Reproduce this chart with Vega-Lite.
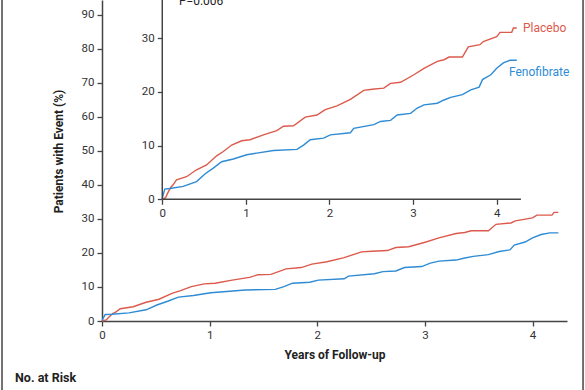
{
  "$schema": "https://vega.github.io/schema/vega-lite/v6.json",
  "width": 465,
  "height": 321,
  "autosize": {"type": "none"},
  "padding": {"left": 102, "right": 18, "top": 0, "bottom": 69},
  "background": "white",
  "config": {
    "view": {"stroke": null},
    "font": "Roboto, sans-serif",
    "axis": {
      "grid": false,
      "domainColor": "#444",
      "domainWidth": 1.5,
      "tickColor": "#444",
      "tickWidth": 1.3,
      "tickSize": 5,
      "labelPadding": 3,
      "labelFontSize": 11.5,
      "labelColor": "#333",
      "labelFlush": false,
      "labelOverlap": false,
      "labelBound": false,
      "titleFontSize": 12,
      "titleFontWeight": "bold",
      "titleColor": "#222"
    },
    "axisY": {"labelOverlap": false, "tickCount": 10}
  },
  "datasets": {
    "km": [
      {"group": "Placebo", "t": 0, "v": 0},
      {"group": "Placebo", "t": 0.04, "v": 0.3},
      {"group": "Placebo", "t": 0.06, "v": 1.0},
      {"group": "Placebo", "t": 0.10, "v": 2.2},
      {"group": "Placebo", "t": 0.13, "v": 2.7},
      {"group": "Placebo", "t": 0.17, "v": 3.6},
      {"group": "Placebo", "t": 0.29, "v": 4.2},
      {"group": "Placebo", "t": 0.41, "v": 5.5},
      {"group": "Placebo", "t": 0.53, "v": 6.4},
      {"group": "Placebo", "t": 0.65, "v": 8.1},
      {"group": "Placebo", "t": 0.73, "v": 8.9},
      {"group": "Placebo", "t": 0.83, "v": 10.1},
      {"group": "Placebo", "t": 0.95, "v": 10.9},
      {"group": "Placebo", "t": 1.05, "v": 11.1},
      {"group": "Placebo", "t": 1.21, "v": 12.0},
      {"group": "Placebo", "t": 1.37, "v": 12.8},
      {"group": "Placebo", "t": 1.45, "v": 13.6},
      {"group": "Placebo", "t": 1.57, "v": 13.7},
      {"group": "Placebo", "t": 1.71, "v": 15.3},
      {"group": "Placebo", "t": 1.85, "v": 15.7},
      {"group": "Placebo", "t": 1.95, "v": 16.7},
      {"group": "Placebo", "t": 2.09, "v": 17.4},
      {"group": "Placebo", "t": 2.25, "v": 18.6},
      {"group": "Placebo", "t": 2.41, "v": 20.3},
      {"group": "Placebo", "t": 2.51, "v": 20.5},
      {"group": "Placebo", "t": 2.65, "v": 20.7},
      {"group": "Placebo", "t": 2.73, "v": 21.6},
      {"group": "Placebo", "t": 2.85, "v": 21.8},
      {"group": "Placebo", "t": 3.01, "v": 23.2},
      {"group": "Placebo", "t": 3.13, "v": 24.4},
      {"group": "Placebo", "t": 3.29, "v": 25.7},
      {"group": "Placebo", "t": 3.37, "v": 26.0},
      {"group": "Placebo", "t": 3.43, "v": 26.5},
      {"group": "Placebo", "t": 3.59, "v": 26.5},
      {"group": "Placebo", "t": 3.66, "v": 28.4},
      {"group": "Placebo", "t": 3.80, "v": 28.8},
      {"group": "Placebo", "t": 3.84, "v": 29.4},
      {"group": "Placebo", "t": 4.00, "v": 30.3},
      {"group": "Placebo", "t": 4.04, "v": 31.1},
      {"group": "Placebo", "t": 4.18, "v": 31.1},
      {"group": "Placebo", "t": 4.20, "v": 31.9},
      {"group": "Placebo", "t": 4.24, "v": 31.9},
      {"group": "Fenofibrate", "t": 0, "v": 0},
      {"group": "Fenofibrate", "t": 0.01, "v": 0.8},
      {"group": "Fenofibrate", "t": 0.03, "v": 1.9},
      {"group": "Fenofibrate", "t": 0.09, "v": 2.0},
      {"group": "Fenofibrate", "t": 0.25, "v": 2.4},
      {"group": "Fenofibrate", "t": 0.41, "v": 3.3},
      {"group": "Fenofibrate", "t": 0.51, "v": 4.7},
      {"group": "Fenofibrate", "t": 0.61, "v": 5.8},
      {"group": "Fenofibrate", "t": 0.71, "v": 7.0},
      {"group": "Fenofibrate", "t": 0.85, "v": 7.5},
      {"group": "Fenofibrate", "t": 1.01, "v": 8.3},
      {"group": "Fenofibrate", "t": 1.13, "v": 8.6},
      {"group": "Fenofibrate", "t": 1.33, "v": 9.1},
      {"group": "Fenofibrate", "t": 1.61, "v": 9.3},
      {"group": "Fenofibrate", "t": 1.69, "v": 10.1},
      {"group": "Fenofibrate", "t": 1.77, "v": 11.1},
      {"group": "Fenofibrate", "t": 1.93, "v": 11.4},
      {"group": "Fenofibrate", "t": 2.01, "v": 12.0},
      {"group": "Fenofibrate", "t": 2.25, "v": 12.4},
      {"group": "Fenofibrate", "t": 2.29, "v": 13.2},
      {"group": "Fenofibrate", "t": 2.53, "v": 13.9},
      {"group": "Fenofibrate", "t": 2.61, "v": 14.5},
      {"group": "Fenofibrate", "t": 2.73, "v": 14.7},
      {"group": "Fenofibrate", "t": 2.81, "v": 15.7},
      {"group": "Fenofibrate", "t": 2.97, "v": 16.0},
      {"group": "Fenofibrate", "t": 3.05, "v": 17.0},
      {"group": "Fenofibrate", "t": 3.13, "v": 17.6},
      {"group": "Fenofibrate", "t": 3.29, "v": 17.9},
      {"group": "Fenofibrate", "t": 3.37, "v": 18.5},
      {"group": "Fenofibrate", "t": 3.45, "v": 19.0},
      {"group": "Fenofibrate", "t": 3.59, "v": 19.5},
      {"group": "Fenofibrate", "t": 3.69, "v": 20.4},
      {"group": "Fenofibrate", "t": 3.79, "v": 20.9},
      {"group": "Fenofibrate", "t": 3.83, "v": 22.3},
      {"group": "Fenofibrate", "t": 3.93, "v": 23.2},
      {"group": "Fenofibrate", "t": 4.00, "v": 24.4},
      {"group": "Fenofibrate", "t": 4.08, "v": 25.4},
      {"group": "Fenofibrate", "t": 4.16, "v": 25.9},
      {"group": "Fenofibrate", "t": 4.24, "v": 25.9}
    ]
  },
  "resolve": {
    "scale": {"x": "independent", "y": "independent", "color": "shared"},
    "axis": {"x": "independent", "y": "independent"}
  },
  "layer": [
    {
      "layer": [
        {
          "data": {"name": "km"},
          "mark": {"type": "line", "strokeWidth": 1.4, "interpolate": "linear"},
          "encoding": {
            "x": {
              "field": "t", "type": "quantitative",
              "scale": {"domain": [0, 4.32], "nice": false, "zero": false},
              "axis": {
                "orient": "bottom",
                "values": [0, 0.5, 1, 1.5, 2, 2.5, 3, 3.5, 4],
                "format": "d",
                "labelOverlap": false,
                "labelExpr": "datum.value % 1 === 0 ? datum.label : ''",
                "title": "Years of Follow-up",
                "titlePadding": 9
              }
            },
            "y": {
              "field": "v", "type": "quantitative",
              "scale": {"domain": [0, 94.3], "nice": false},
              "axis": {
                "orient": "left",
                "values": [0, 10, 20, 30, 40, 50, 60, 70, 80, 90],
                "labelOverlap": false,
                "title": "Patients with Event (%)",
                "titleX": -44,
                "titleY": 151,
                "titleAngle": -90,
                "titleAlign": "center",
                "titleBaseline": "middle"
              }
            },
            "color": {
              "field": "group", "type": "nominal",
              "scale": {"domain": ["Placebo", "Fenofibrate"], "range": ["#dc5a4b", "#2e8bd4"]},
              "legend": null
            }
          }
        },
        {
          "data": {"values": [{}]},
          "mark": {"type": "rule", "color": "#444", "strokeWidth": 1.5},
          "encoding": {
            "x": {"datum": -0.929, "type": "quantitative"},
            "y": {"datum": 94.3, "type": "quantitative", "axis": {"values": [0, 10, 20, 30, 40, 50, 60, 70, 80, 90], "labelOverlap": false}},
            "y2": {"datum": -21}
          }
        },
        {
          "data": {"values": [{}]},
          "mark": {"type": "rule", "color": "#444", "strokeWidth": 1.5},
          "encoding": {
            "x": {"datum": 4.469, "type": "quantitative"},
            "y": {"datum": 94.3, "type": "quantitative", "axis": {"values": [0, 10, 20, 30, 40, 50, 60, 70, 80, 90], "labelOverlap": false}},
            "y2": {"datum": -21}
          }
        },
        {
          "data": {"values": [{}]},
          "mark": {"type": "text", "text": "No. at Risk", "align": "left", "baseline": "middle", "fontSize": 12.5, "fontWeight": "bold", "color": "#222"},
          "encoding": {
            "x": {"datum": -0.808, "type": "quantitative"},
            "y": {"datum": -16.75, "type": "quantitative", "axis": {"values": [0, 10, 20, 30, 40, 50, 60, 70, 80, 90], "labelOverlap": false}}
          }
        }
      ]
    },
    {
      "layer": [
        {
          "data": {"name": "km"},
          "mark": {"type": "line", "strokeWidth": 1.4, "interpolate": "linear"},
          "encoding": {
            "x": {
              "field": "t", "type": "quantitative",
              "scale": {"domain": [-0.721, 4.841], "nice": false, "zero": false},
              "axis": {
                "orient": "bottom",
                "offset": -121.7,
                "domain": false,
                "values": [0, 0.5, 1, 1.5, 2, 2.5, 3, 3.5, 4],
                "format": "d",
                "labelOverlap": false,
                "labelExpr": "datum.value % 1 === 0 ? datum.label : ''",
                "title": null
              }
            },
            "y": {
              "field": "v", "type": "quantitative",
              "scale": {"domain": [-22.68, 37.13], "nice": false, "zero": false},
              "axis": {
                "orient": "left",
                "offset": -60.3,
                "domain": false,
                "labelOverlap": false,
                "values": [0, 10, 20, 30],
                "title": null
              }
            },
            "color": {
              "field": "group", "type": "nominal",
              "scale": {"domain": ["Placebo", "Fenofibrate"], "range": ["#dc5a4b", "#2e8bd4"]},
              "legend": null
            }
          }
        },
        {
          "data": {"values": [{}]},
          "mark": {"type": "rule", "color": "#444", "strokeWidth": 1.5},
          "encoding": {
            "x": {"datum": 0, "type": "quantitative"},
            "x2": {"datum": 4.29},
            "y": {"datum": 0, "type": "quantitative"}
          }
        },
        {
          "data": {"values": [{}]},
          "mark": {"type": "rule", "color": "#444", "strokeWidth": 1.5},
          "encoding": {
            "x": {"datum": 0, "type": "quantitative"},
            "y": {"datum": 0, "type": "quantitative"},
            "y2": {"datum": 37.13}
          }
        },
        {
          "data": {"values": [{}]},
          "mark": {"type": "text", "text": "Placebo", "align": "left", "baseline": "middle", "fontSize": 12, "color": "#dc5a4b"},
          "encoding": {
            "x": {"datum": 4.315, "type": "quantitative"},
            "y": {"datum": 31.97, "type": "quantitative"}
          }
        },
        {
          "data": {"values": [{}]},
          "mark": {"type": "text", "text": "Fenofibrate", "align": "left", "baseline": "middle", "fontSize": 12, "color": "#2e8bd4"},
          "encoding": {
            "x": {"datum": 4.147, "type": "quantitative"},
            "y": {"datum": 23.66, "type": "quantitative"}
          }
        },
        {
          "data": {"values": [{}]},
          "mark": {"type": "text", "text": "P=0.006", "align": "left", "baseline": "alphabetic", "fontSize": 12, "color": "#222"},
          "encoding": {
            "x": {"datum": 0.2, "type": "quantitative"},
            "y": {"datum": 36.2, "type": "quantitative"}
          }
        }
      ]
    }
  ]
}
